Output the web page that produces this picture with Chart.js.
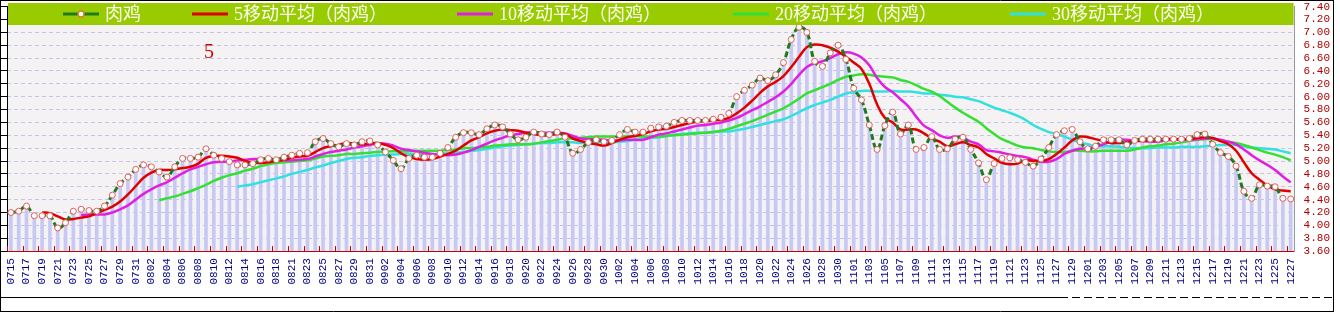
<!DOCTYPE html>
<html><head><meta charset="utf-8">
<script src="https://cdn.jsdelivr.net/npm/chart.js@4.4.1/dist/chart.umd.min.js"></script>
<style>html,body{margin:0;padding:0;background:#fff;overflow:hidden}#wrap{width:1340px;height:313px}</style>
</head><body><div id="wrap"><canvas id="c" width="1340" height="313"></canvas></div>
<script>
const categories = [
'0715','0716','0717','0718','0719','0720','0721','0722','0723','0724','0725','0726','0727','0728','0729','0730','0731',
'0801','0802','0803','0804','0805','0806','0807','0808','0809','0810','0811','0812','0813','0814','0815','0816','0817','0818','0819',
'0821','0822','0823','0824','0825','0826','0827','0828','0829','0830','0831',
'0901','0902','0903','0904','0905','0906','0907','0908','0909','0910','0911','0912','0913','0914','0915','0916','0917','0918','0919','0920',
'0921','0922','0923','0924','0925','0926','0927','0928','0929','0930',
'1001','1002','1003','1004','1005','1006','1007','1008','1009','1010','1011','1012','1013','1014','1015','1016','1017','1018','1019','1020',
'1021','1022','1023','1024','1025','1026','1027','1028','1029','1030','1031',
'1101','1102','1103','1104','1105','1106','1107','1108','1109','1110','1111','1112','1113','1114','1115','1116','1117','1118','1119','1120',
'1121','1122','1123','1124','1125','1126','1127','1128','1129','1130',
'1201','1202','1203','1204','1205','1206','1207','1208','1209','1210','1211','1212','1213','1214','1215','1216','1217','1218','1219','1220',
'1221','1222','1223','1224','1225','1226','1227'
];

const seriesNames = ['肉鸡','5移动平均（肉鸡）','10移动平均（肉鸡）','20移动平均（肉鸡）','30移动平均（肉鸡）'];

const price = [
4.20,4.22,4.30,4.15,4.15,4.15,3.96,4.04,4.22,4.25,
4.23,4.22,4.30,4.47,4.65,4.75,4.87,4.94,4.91,4.83,
4.75,4.91,5.04,5.04,5.06,5.19,5.09,5.04,4.99,4.94,
4.94,4.96,5.02,5.04,5.02,5.06,5.09,5.12,5.13,5.30,
5.35,5.27,5.22,5.27,5.25,5.30,5.31,5.25,5.14,5.01,
4.88,5.04,5.09,5.06,5.06,5.12,5.21,5.37,5.44,5.44,
5.41,5.50,5.56,5.53,5.42,5.33,5.37,5.45,5.42,5.41,
5.45,5.37,5.12,5.18,5.29,5.33,5.30,5.32,5.41,5.49,
5.45,5.45,5.51,5.53,5.54,5.60,5.63,5.63,5.63,5.63,
5.65,5.68,5.74,6.00,6.10,6.18,6.29,6.25,6.34,6.53,
6.89,7.08,7.00,6.55,6.47,6.68,6.80,6.58,6.13,5.95,
5.56,5.18,5.55,5.76,5.42,5.56,5.18,5.21,5.38,5.18,
5.19,5.34,5.37,5.18,4.97,4.71,4.96,5.04,5.05,5.02,
4.98,4.92,5.03,5.21,5.41,5.47,5.49,5.30,5.19,5.23,
5.33,5.33,5.33,5.25,5.32,5.34,5.34,5.34,5.34,5.34,
5.34,5.35,5.41,5.42,5.26,5.13,5.07,4.92,4.53,4.42,
4.63,4.61,4.60,4.42,4.41
];

const ma5 = [null,null,null,null,
4.20,4.19,4.14,4.09,4.10,4.12,4.14,4.19,4.24,4.29,
4.37,4.48,4.61,4.74,4.82,4.86,4.86,4.87,4.89,4.91,
4.96,5.05,5.08,5.08,5.07,5.05,5.00,4.97,4.97,4.98,
5.00,5.02,5.05,5.07,5.08,5.14,5.20,5.23,5.25,5.28,
5.27,5.26,5.27,5.28,5.25,5.20,5.12,5.06,5.03,5.02,
5.03,5.07,5.11,5.16,5.24,5.32,5.37,5.43,5.47,5.49,
5.48,5.47,5.44,5.42,5.40,5.40,5.42,5.42,5.35,5.31,
5.28,5.26,5.24,5.28,5.33,5.37,5.39,5.42,5.46,5.49,
5.50,5.53,5.56,5.59,5.61,5.62,5.63,5.64,5.67,5.74,
5.83,5.94,6.06,6.16,6.23,6.32,6.46,6.62,6.77,6.81,
6.80,6.76,6.70,6.62,6.53,6.43,6.20,5.88,5.67,5.60,
5.49,5.49,5.49,5.43,5.35,5.30,5.23,5.26,5.29,5.25,
5.21,5.11,5.04,4.97,4.95,4.96,5.01,5.00,5.00,5.03,
5.11,5.21,5.32,5.38,5.37,5.34,5.31,5.28,5.28,5.29,
5.31,5.31,5.32,5.32,5.34,5.34,5.34,5.34,5.36,5.37,
5.36,5.31,5.26,5.16,4.98,4.81,4.71,4.62,4.56,4.54,4.53
];

const ma10 = [null,null,null,null,null,null,null,null,null,
4.16,4.17,4.17,4.17,4.20,4.25,4.31,4.40,4.49,4.56,
4.62,4.67,4.74,4.81,4.87,4.91,4.95,4.98,4.99,4.99,
5.01,5.02,5.03,5.03,5.03,5.02,5.01,5.01,5.02,5.03,
5.07,5.11,5.14,5.16,5.18,5.21,5.23,5.25,5.27,5.27,
5.24,5.19,5.17,5.15,5.13,5.11,5.10,5.09,5.10,5.13,
5.17,5.22,5.27,5.32,5.36,5.40,5.42,5.44,5.45,5.44,
5.44,5.44,5.43,5.39,5.35,5.34,5.34,5.33,5.32,5.32,
5.33,5.33,5.33,5.37,5.41,5.43,5.46,5.49,5.52,5.55,
5.56,5.58,5.60,5.63,5.67,5.73,5.79,5.85,5.92,5.99,
6.08,6.20,6.34,6.46,6.52,6.55,6.60,6.66,6.69,6.67,
6.61,6.49,6.29,6.15,6.07,5.96,5.85,5.69,5.55,5.48,
5.40,5.36,5.38,5.36,5.30,5.26,5.17,5.15,5.13,5.10,
5.08,5.06,5.02,4.99,4.99,5.03,5.11,5.16,5.19,5.20,
5.22,5.26,5.30,5.33,5.33,5.32,5.31,5.30,5.30,5.32,
5.33,5.33,5.33,5.34,5.35,5.35,5.33,5.30,5.26,5.18,
5.09,5.01,4.94,4.86,4.76,4.67
];

const ma20 = [null,null,null,null,null,null,null,null,null,null,null,null,null,null,null,null,null,null,null,
4.39,4.42,4.45,4.49,4.53,4.58,4.63,4.69,4.74,4.78,
4.81,4.85,4.88,4.92,4.95,4.97,4.98,4.99,5.00,5.01,
5.04,5.07,5.08,5.09,5.11,5.11,5.12,5.13,5.14,5.15,
5.15,5.15,5.15,5.16,5.16,5.16,5.16,5.17,5.18,5.20,
5.20,5.21,5.22,5.24,5.25,5.26,5.26,5.26,5.27,5.29,
5.31,5.33,5.35,5.35,5.36,5.37,5.38,5.38,5.38,5.38,
5.38,5.39,5.38,5.38,5.38,5.39,5.40,5.41,5.42,5.43,
5.44,5.45,5.47,5.50,5.54,5.58,5.62,5.67,5.72,5.77,
5.82,5.89,5.97,6.05,6.10,6.15,6.20,6.26,6.31,6.33,
6.35,6.34,6.32,6.31,6.30,6.26,6.23,6.18,6.12,6.08,
6.01,5.92,5.83,5.75,5.68,5.61,5.51,5.42,5.34,5.29,
5.24,5.21,5.20,5.17,5.15,5.14,5.14,5.16,5.16,5.15,
5.15,5.16,5.16,5.16,5.16,5.18,5.21,5.23,5.24,5.26,
5.27,5.29,5.31,5.33,5.34,5.34,5.32,5.30,5.28,5.25,
5.21,5.17,5.13,5.10,5.06,5.01
];

const ma30 = [null,null,null,null,null,null,null,null,null,null,null,null,null,null,null,
null,null,null,null,null,null,null,null,null,null,null,null,null,null,
4.60,4.62,4.64,4.67,4.70,4.73,4.76,4.80,4.83,4.86,
4.90,4.93,4.97,5.00,5.03,5.05,5.06,5.08,5.09,5.10,
5.10,5.11,5.11,5.11,5.11,5.11,5.11,5.12,5.13,5.14,
5.16,5.17,5.19,5.21,5.23,5.24,5.25,5.26,5.27,5.28,
5.28,5.29,5.29,5.29,5.28,5.28,5.29,5.29,5.29,5.30,
5.31,5.33,5.35,5.36,5.37,5.39,5.41,5.42,5.43,5.44,
5.44,5.45,5.46,5.46,5.48,5.50,5.53,5.56,5.59,5.62,
5.65,5.70,5.76,5.82,5.87,5.91,5.95,6.00,6.05,6.07,
6.09,6.09,6.08,6.08,6.09,6.08,6.08,6.07,6.05,6.05,
6.03,6.02,6.00,5.99,5.96,5.93,5.88,5.83,5.79,5.75,
5.70,5.64,5.56,5.50,5.45,5.42,5.38,5.33,5.29,5.26,
5.23,5.23,5.23,5.22,5.21,5.20,5.20,5.20,5.21,5.21,
5.21,5.22,5.22,5.22,5.23,5.24,5.25,5.25,5.25,5.23,
5.21,5.20,5.19,5.18,5.15,5.12
];

const yMin = 3.6, yMax = 7.4, yStep = 0.2;
const annotationText = '5';

const monoFont = '"Liberation Mono","DejaVu Sans Mono",monospace';
const legendFont = '18px "Liberation Serif","Noto Sans CJK SC",serif';

const decoPlugin = {
  id: 'deco',
  beforeDraw(chart) {
    const {ctx, chartArea: a} = chart;
    ctx.save();
    ctx.fillStyle = '#ffffff';
    ctx.fillRect(0, 0, chart.width, chart.height);
    ctx.fillStyle = '#f4f2f2';
    ctx.fillRect(a.left, a.top, a.right - a.left, a.bottom - a.top);
    ctx.restore();
  },
  afterDraw(chart) {
    const {ctx, chartArea: a} = chart;
    const xs = chart.scales.x;
    ctx.save();
    const w = xs.getPixelForValue(1) - xs.getPixelForValue(0);
    ctx.strokeStyle = '#c00000';
    ctx.lineWidth = 1;
    ctx.beginPath();
    for (let i = 0; i < categories.length; i += 2) {
      const x = Math.round(xs.getPixelForValue(i) - w / 2) + 0.5;
      ctx.moveTo(x, a.bottom);
      ctx.lineTo(x, a.bottom - 5);
    }
    ctx.stroke();

    ctx.fillStyle = '#99cc00';
    ctx.fillRect(a.left + 1, 3, a.right - a.left - 2, 22);
    const starts = [63, 192, 457, 733, 1010];
    ctx.font = legendFont;
    ctx.textBaseline = 'middle';
    chart.data.datasets.slice(0, 5).forEach((ds, k) => {
      const x0 = starts[k], yc = 14;
      ctx.strokeStyle = ds.borderColor;
      ctx.lineWidth = 3;
      ctx.setLineDash([]);
      ctx.beginPath();
      ctx.moveTo(x0, yc);
      ctx.lineTo(x0 + 36, yc);
      ctx.stroke();
      if (k === 0) {
        ctx.beginPath();
        ctx.arc(x0 + 18, yc, 3, 0, Math.PI * 2);
        ctx.fillStyle = '#ffffff';
        ctx.fill();
        ctx.strokeStyle = '#d08030';
        ctx.lineWidth = 1.5;
        ctx.stroke();
      }
      ctx.fillStyle = '#fffff4';
      ctx.fillText(ds.label, x0 + 42, yc + 1);
    });

    ctx.fillStyle = '#cc0000';
    ctx.font = '20px "Liberation Serif",serif';
    ctx.textBaseline = 'alphabetic';
    ctx.fillText(annotationText, 204, 58);

    ctx.strokeStyle = '#000000';
    ctx.lineWidth = 1;
    ctx.setLineDash([]);
    ctx.beginPath();
    ctx.moveTo(0, 0.5); ctx.lineTo(1334, 0.5);
    ctx.moveTo(0.5, 0); ctx.lineTo(0.5, 312);
    ctx.moveTo(1333.5, 0); ctx.lineTo(1333.5, 312);
    ctx.moveTo(0, 311.5); ctx.lineTo(1334, 311.5);
    ctx.moveTo(0, 297.5); ctx.lineTo(1060, 297.5);
    ctx.stroke();
    ctx.setLineDash([8, 4]);
    ctx.beginPath();
    ctx.moveTo(1060, 297.5); ctx.lineTo(1334, 297.5);
    ctx.stroke();
    ctx.restore();
  }
};

const lineBase = {type: 'line', pointRadius: 0, borderWidth: 2.5, tension: 0.4, fill: false};

new Chart(document.getElementById('c'), {
  data: {
    labels: categories,
    datasets: [
      {type: 'line', label: seriesNames[0], data: price, borderColor: '#1f7a1f', borderWidth: 3, borderDash: [6, 3],
       pointRadius: 3, pointBackgroundColor: '#ffffff', pointBorderColor: '#e06060', pointBorderWidth: 1, tension: 0.4, order: 0},
      Object.assign({}, lineBase, {label: seriesNames[1], data: ma5, borderColor: '#e00000', order: 1}),
      Object.assign({}, lineBase, {label: seriesNames[2], data: ma10, borderColor: '#e020e0', order: 2}),
      Object.assign({}, lineBase, {label: seriesNames[3], data: ma20, borderColor: '#33e033', order: 3}),
      Object.assign({}, lineBase, {label: seriesNames[4], data: ma30, borderColor: '#33e0e0', order: 4}),
      {type: 'bar', label: 'bar', data: price, backgroundColor: '#c8c8f4', barThickness: 3, order: 10}
    ]
  },
  options: {
    responsive: false, animation: false, devicePixelRatio: 1,
    layout: {padding: {left: 1, right: 10, top: 1, bottom: 21.5}},
    plugins: {legend: {display: false}, tooltip: {enabled: false}},
    scales: {
      x: {
        type: 'category', offset: true,
        grid: {display: false, drawTicks: false},
        border: {display: true, color: '#c00000', width: 1},
        ticks: {autoSkip: false, maxRotation: 90, minRotation: 90, padding: 7, color: '#000080',
          font: {family: monoFont, size: 11},
          callback: (v, i) => (i % 2 === 0 ? categories[i] : '')}
      },
      y: {
        position: 'right', min: yMin, max: yMax,
        ticks: {stepSize: yStep, autoSkip: false, padding: 0, color: '#b00000', font: {family: monoFont, size: 11},
          callback: v => Number(v).toFixed(2)},
        grid: {color: '#c4c4ea', drawTicks: true, tickLength: 9, tickColor: 'rgba(0,0,0,0)', lineWidth: 1},
        border: {display: true, color: '#9a9a9a', dash: [4, 3]}
      },
      y2: {
        position: 'left', min: yMin, max: yMax,
        ticks: {stepSize: yStep, display: false, autoSkip: false, padding: 0},
        grid: {drawOnChartArea: false, drawTicks: true, tickLength: 6, color: '#000000'},
        border: {display: true, color: '#000000'}
      }
    }
  },
  plugins: [decoPlugin]
});
</script>
</body></html>
